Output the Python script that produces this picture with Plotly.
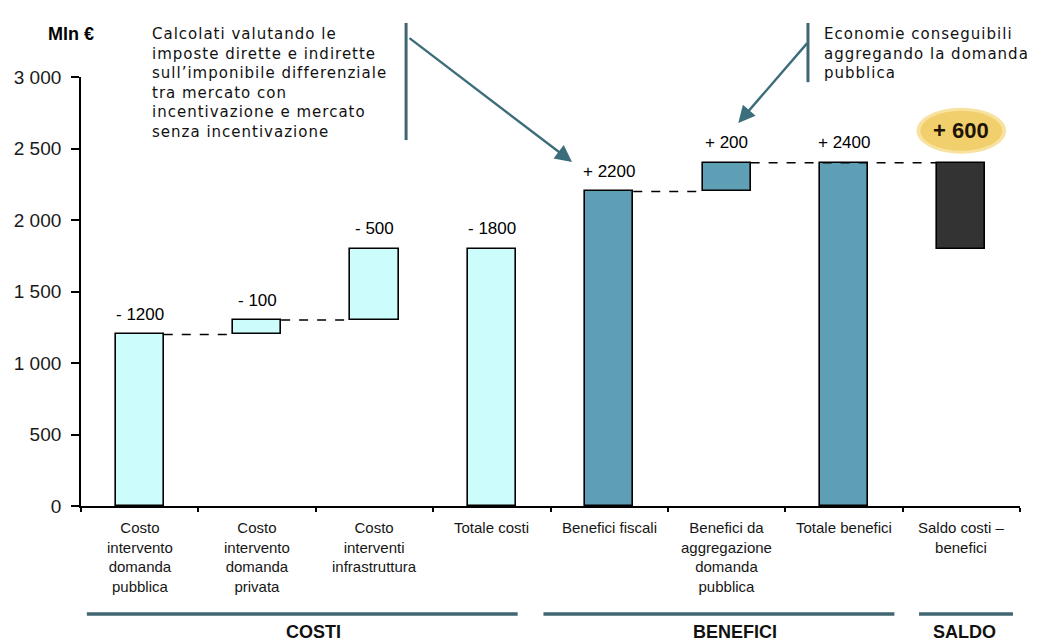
import plotly.graph_objects as go

# ---- data -------------------------------------------------------------
categories = [
    "Costo<br>intervento<br>domanda<br>pubblica",
    "Costo<br>intervento<br>domanda<br>privata",
    "Costo<br>interventi<br>infrastruttura",
    "Totale costi",
    "Benefici fiscali",
    "Benefici da<br>aggregazione<br>domanda<br>pubblica",
    "Totale benefici",
    "Saldo costi –<br>benefici",
]
amounts = [1200, 100, 500, 1800, 2200, 200, 2400, 600]
bases = [0, 1200, 1300, 0, 0, 2200, 0, 1800]
signs = ["-", "-", "-", "-", "+", "+", "+", "+"]
kinds = ["cost", "cost", "cost", "cost", "benefit", "benefit", "benefit", "balance"]
connectors = [(0, 1), (1, 2), (4, 5), (5, 7)]
groups = ["COSTI", "BENEFICI", "SALDO"]
y_ticks = [0, 500, 1000, 1500, 2000, 2500, 3000]

note_fiscal = [
    "Calcolati valutando le",
    "imposte dirette e indirette",
    "sull’imponibile differenziale",
    "tra mercato con",
    "incentivazione e mercato",
    "senza incentivazione",
]
note_savings = [
    "Economie conseguibili",
    "aggregando la domanda",
    "pubblica",
]

# ---- styling ----------------------------------------------------------
fill = {"cost": "#ccfcfc", "benefit": "#5f9fb6", "balance": "#333333"}
teal = "#3c6d7b"
rule = "#3f6671"
BAR_W = 0.41
ARIAL = "Liberation Sans, Arial, sans-serif"
NOTE_FONT = "DejaVu Sans, Verdana, sans-serif"

xs = [i + 0.5 for i in range(len(categories))]
tops = [b + a for b, a in zip(bases, amounts)]

fig = go.Figure()

fig.add_trace(go.Bar(
    x=xs, y=amounts, base=bases, width=BAR_W,
    marker=dict(color=[fill[k] for k in kinds],
                line=dict(color="black", width=1.6)),
    hoverinfo="skip", showlegend=False,
))

# dashed connectors between consecutive steps
for a, b in connectors:
    fig.add_trace(go.Scatter(
        x=[xs[a] + BAR_W / 2, xs[b] - BAR_W / 2], y=[tops[a], tops[a]],
        mode="lines", line=dict(color="black", width=1.5, dash="dash"),
        hoverinfo="skip", showlegend=False,
    ))

annotations = []

# value labels above each bar
for i, (s, a) in enumerate(zip(signs, amounts)):
    if kinds[i] == "balance":
        annotations.append(dict(
            x=xs[i], y=tops[i], xref="x", yref="y", text=f"<b>{s} {a}</b>",
            showarrow=False, yanchor="middle", yshift=32,
            font=dict(family=ARIAL, size=22, color="#1e1408"),
        ))
    else:
        annotations.append(dict(
            x=xs[i], y=tops[i], xref="x", yref="y", text=f"{s} {a}",
            showarrow=False, yanchor="middle", yshift=20,
            font=dict(family=ARIAL, size=17, color="black"),
        ))

# category labels under the axis
for x, c in zip(xs, categories):
    annotations.append(dict(
        x=x, y=0, xref="x", yref="paper", text=c, showarrow=False,
        yanchor="top", yshift=-11, align="center",
        font=dict(family=ARIAL, size=15, color="#161616"),
    ))

# group rules and titles
group_extent = [(0.05, 3.72), (3.94, 6.93), (7.14, 7.94)]
group_label_x = [1.98, 5.57, 7.53]
shapes = []
for (g0, g1), gx, g in zip(group_extent, group_label_x, groups):
    shapes.append(dict(type="line", xref="x", yref="paper", x0=g0, x1=g1,
                       y0=-0.252, y1=-0.252, line=dict(color=rule, width=3.5)))
    annotations.append(dict(
        x=gx, y=-0.2935, xref="x", yref="paper", text=f"<b>{g}</b>",
        showarrow=False, yanchor="middle",
        font=dict(family=ARIAL, size=18, color="#111111"),
    ))

# highlight behind the balance label
shapes.append(dict(type="circle", xref="x", yref="y",
                   xsizemode="pixel", ysizemode="pixel",
                   xanchor=xs[7], yanchor=tops[7],
                   x0=-45, x1=45, y0=9, y1=55,
                   fillcolor="#f8e2a0", line=dict(width=0), layer="below"))
shapes.append(dict(type="circle", xref="x", yref="y",
                   xsizemode="pixel", ysizemode="pixel",
                   xanchor=xs[7], yanchor=tops[7],
                   x0=-41, x1=41, y0=12, y1=52,
                   fillcolor="#f1cf6c", line=dict(width=0), layer="below"))


def note_text(lines):
    return "<br>".join(f'<span style="letter-spacing:1px">{l}</span>' for l in lines)


# explanatory notes with their markers and arrows
annotations.append(dict(
    x=0.0735, y=1.126, xref="paper", yref="paper", text=note_text(note_fiscal),
    showarrow=False, xanchor="left", yanchor="top", align="left",
    font=dict(family=NOTE_FONT, size=15, color="#111111"),
))
annotations.append(dict(
    x=0.7895, y=1.126, xref="paper", yref="paper", text=note_text(note_savings),
    showarrow=False, xanchor="left", yanchor="top", align="left",
    font=dict(family=NOTE_FONT, size=15, color="#111111"),
))
shapes.append(dict(type="line", xref="paper", yref="paper",
                   x0=0.3462, x1=0.3462, y0=1.126, y1=0.853,
                   line=dict(color=rule, width=3)))
shapes.append(dict(type="line", xref="paper", yref="paper",
                   x0=0.7742, x1=0.7742, y0=1.126, y1=0.988,
                   line=dict(color=rule, width=3)))
annotations.append(dict(
    x=0.5229, y=0.802, xref="paper", yref="paper", text="",
    showarrow=True, ax=-164, ay=-125, arrowhead=2, arrowsize=1.4,
    arrowwidth=2.4, arrowcolor=teal,
))
annotations.append(dict(
    x=0.7000, y=0.893, xref="paper", yref="paper", text="",
    showarrow=True, ax=70, ay=-81, arrowhead=2, arrowsize=1.4,
    arrowwidth=2.4, arrowcolor=teal,
))

# unit label
annotations.append(dict(
    x=-0.0373, y=1.128, xref="paper", yref="paper", text="<b>Mln €</b>",
    showarrow=False, font=dict(family=ARIAL, size=18, color="black"),
))

fig.update_layout(
    width=1044, height=644,
    margin=dict(l=81, r=24, t=77, b=138),
    paper_bgcolor="white", plot_bgcolor="white",
    separators=", ",
    bargap=0,
    xaxis=dict(range=[0, len(categories)], tickvals=list(range(len(categories) + 1)),
               showticklabels=False, ticks="outside", ticklen=4, tickwidth=1.5,
               tickcolor="black", showline=True, linecolor="black", linewidth=1.8,
               showgrid=False, zeroline=False, fixedrange=True),
    yaxis=dict(range=[0, 3000], tickvals=y_ticks, tickformat=",d",
               ticks="outside", ticklen=8, tickwidth=1.5, tickcolor="black",
               ticklabelstandoff=6,
               showline=True, linecolor="black", linewidth=1.8,
               showgrid=False, zeroline=False, fixedrange=True,
               tickfont=dict(family=ARIAL, size=19, color="#1a1a1a")),
    shapes=shapes,
    annotations=annotations,
)

fig.write_html("out.html")
